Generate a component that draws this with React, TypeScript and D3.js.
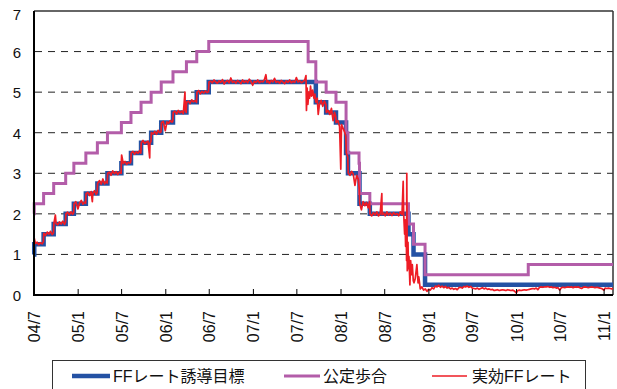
import React from "react";
import * as d3 from "d3";

// ---- data ----
const domainStart = "2004-07-01";
const domainEnd = "2011-02-07";

const tickDates = ["2004-07-01","2005-01-01","2005-07-01","2006-01-01","2006-07-01","2007-01-01","2007-07-01","2008-01-01","2008-07-01","2009-01-01","2009-07-01","2010-01-01","2010-07-01","2011-01-01"];
const tickLabels = ["04/7","05/1","05/7","06/1","06/7","07/1","07/7","08/1","08/7","09/1","09/7","10/1","10/7","11/1"];
const yTicks = [0, 1, 2, 3, 4, 5, 6, 7];

const targetDates = ["2004-07-01","2004-07-02","2004-08-10","2004-09-21","2004-11-10","2004-12-14","2005-02-02","2005-03-22","2005-05-03","2005-06-30","2005-08-09","2005-09-20","2005-11-01","2005-12-13","2006-01-31","2006-03-28","2006-05-10","2006-06-29","2007-09-18","2007-10-31","2007-12-11","2008-01-22","2008-01-30","2008-03-18","2008-04-30","2008-10-08","2008-10-29","2008-12-16","2011-02-07"];
const targetRates = [1.0,1.25,1.5,1.75,2.0,2.25,2.5,2.75,3.0,3.25,3.5,3.75,4.0,4.25,4.5,4.75,5.0,5.25,4.75,4.5,4.25,3.5,3.0,2.25,2.0,1.5,1.0,0.25,0.25];

const discountDates = ["2004-07-01","2004-07-02","2004-08-10","2004-09-21","2004-11-10","2004-12-14","2005-02-02","2005-03-22","2005-05-03","2005-06-30","2005-08-09","2005-09-20","2005-11-01","2005-12-13","2006-01-31","2006-03-28","2006-05-10","2006-06-29","2007-08-17","2007-09-18","2007-10-31","2007-12-11","2008-01-22","2008-01-30","2008-03-16","2008-03-18","2008-04-30","2008-10-08","2008-10-29","2008-12-16","2010-02-19","2011-02-07"];
const discountRates = [2.0,2.25,2.5,2.75,3.0,3.25,3.5,3.75,4.0,4.25,4.5,4.75,5.0,5.25,5.5,5.75,6.0,6.25,5.75,5.25,5.0,4.75,4.0,3.5,3.25,2.5,2.25,1.75,1.25,0.5,0.75,0.75];

const effectiveRate: [string, number][] = [
  ["2004-07-01",1.02],["2004-07-02",1.40],["2004-07-07",1.27],["2004-07-14",1.30],["2004-07-21",1.24],["2004-07-28",1.29],["2004-08-04",1.26],["2004-08-09",1.31],
  ["2004-08-11",1.52],["2004-08-18",1.47],["2004-08-25",1.55],["2004-09-01",1.50],["2004-09-08",1.57],["2004-09-15",1.49],["2004-09-20",1.53],
  ["2004-09-22",1.77],["2004-09-28",1.97],["2004-10-01",1.76],["2004-10-08",1.73],["2004-10-15",1.80],["2004-10-22",1.75],["2004-10-29",1.82],["2004-11-05",1.74],["2004-11-09",1.79],
  ["2004-11-11",2.00],["2004-11-18",2.04],["2004-11-25",1.97],["2004-12-02",2.05],["2004-12-09",1.99],["2004-12-13",2.02],
  ["2004-12-15",2.25],["2004-12-22",2.30],["2004-12-31",2.12],["2005-01-07",2.27],["2005-01-14",2.33],["2005-01-21",2.24],["2005-01-28",2.29],["2005-02-01",2.26],
  ["2005-02-03",2.50],["2005-02-10",2.53],["2005-02-17",2.45],["2005-02-24",2.55],["2005-03-01",2.30],["2005-03-03",2.50],["2005-03-10",2.57],["2005-03-17",2.48],["2005-03-21",2.52],
  ["2005-03-23",2.75],["2005-03-31",2.82],["2005-04-07",2.73],["2005-04-14",2.86],["2005-04-21",2.74],["2005-04-28",2.80],["2005-05-02",2.76],
  ["2005-05-04",3.00],["2005-05-11",3.03],["2005-05-18",2.95],["2005-05-25",3.06],["2005-06-01",2.99],["2005-06-08",3.04],["2005-06-15",2.97],["2005-06-22",3.03],["2005-06-29",3.00],
  ["2005-06-30",3.30],["2005-07-01",3.45],["2005-07-08",3.24],["2005-07-15",3.29],["2005-07-22",3.22],["2005-07-29",3.27],["2005-08-05",3.25],["2005-08-08",3.28],
  ["2005-08-10",3.50],["2005-08-17",3.54],["2005-08-24",3.47],["2005-08-31",3.53],["2005-09-07",3.49],["2005-09-14",3.56],["2005-09-19",3.50],
  ["2005-09-21",3.75],["2005-09-28",3.81],["2005-10-05",3.73],["2005-10-12",3.77],["2005-10-19",3.79],["2005-10-26",3.38],["2005-10-27",3.74],["2005-10-31",3.78],
  ["2005-11-02",4.00],["2005-11-09",3.97],["2005-11-16",4.03],["2005-11-23",3.96],["2005-11-30",4.06],["2005-12-07",4.00],["2005-12-12",4.02],
  ["2005-12-14",4.25],["2005-12-21",4.28],["2005-12-30",4.05],["2006-01-06",4.27],["2006-01-13",4.23],["2006-01-20",4.30],["2006-01-27",4.26],["2006-01-30",4.28],
  ["2006-02-01",4.50],["2006-02-08",4.53],["2006-02-15",4.46],["2006-02-22",4.55],["2006-03-01",4.49],["2006-03-08",4.53],["2006-03-15",4.47],["2006-03-22",5.00],["2006-03-23",4.55],["2006-03-27",4.50],
  ["2006-03-29",4.75],["2006-04-05",4.78],["2006-04-12",4.72],["2006-04-19",4.81],["2006-04-26",4.76],["2006-05-03",4.79],["2006-05-09",4.75],
  ["2006-05-11",5.00],["2006-05-18",5.04],["2006-05-25",4.96],["2006-06-01",5.02],["2006-06-08",4.98],["2006-06-15",5.03],["2006-06-22",4.99],["2006-06-28",5.01],
  ["2006-06-30",5.25],["2006-07-07",5.27],["2006-07-14",5.23],["2006-07-21",5.30],["2006-07-28",5.25],["2006-08-04",5.22],["2006-08-11",5.28],["2006-08-18",5.24],["2006-08-25",5.31],
  ["2006-09-01",5.20],["2006-09-08",5.26],["2006-09-15",5.29],["2006-09-22",5.23],["2006-09-29",5.35],["2006-10-06",5.24],["2006-10-13",5.27],["2006-10-20",5.22],["2006-10-27",5.29],
  ["2006-11-03",5.25],["2006-11-10",5.21],["2006-11-17",5.30],["2006-11-24",5.24],["2006-12-01",5.28],["2006-12-08",5.23],["2006-12-15",5.32],["2006-12-22",5.26],["2006-12-29",5.17],
  ["2007-01-05",5.27],["2007-01-12",5.24],["2007-01-19",5.30],["2007-01-26",5.23],["2007-02-02",5.27],["2007-02-09",5.25],["2007-02-16",5.31],["2007-02-22",5.43],["2007-02-26",5.24],
  ["2007-03-02",5.28],["2007-03-09",5.22],["2007-03-16",5.29],["2007-03-23",5.25],["2007-03-30",5.34],["2007-04-06",5.24],["2007-04-13",5.27],["2007-04-20",5.22],["2007-04-27",5.29],
  ["2007-05-04",5.25],["2007-05-11",5.21],["2007-05-18",5.28],["2007-05-25",5.24],["2007-06-01",5.30],["2007-06-08",5.23],["2007-06-15",5.27],["2007-06-22",5.24],["2007-06-29",5.36],
  ["2007-07-06",5.25],["2007-07-13",5.28],["2007-07-20",5.23],["2007-07-27",5.26],["2007-08-03",5.30],
  ["2007-08-08",5.41],["2007-08-10",4.55],["2007-08-13",5.10],["2007-08-16",4.70],["2007-08-20",5.00],["2007-08-23",4.85],["2007-08-27",5.15],["2007-08-31",4.90],["2007-09-05",5.05],["2007-09-10",4.85],["2007-09-14",4.95],["2007-09-17",4.80],
  ["2007-09-19",4.75],["2007-09-24",4.85],["2007-09-28",4.45],["2007-10-03",4.70],["2007-10-10",4.80],["2007-10-17",4.65],["2007-10-24",4.78],["2007-10-30",4.70],
  ["2007-11-01",4.50],["2007-11-08",4.55],["2007-11-15",4.45],["2007-11-22",4.60],["2007-11-29",4.30],["2007-12-05",4.50],["2007-12-10",4.40],
  ["2007-12-12",4.25],["2007-12-19",4.30],["2007-12-26",4.15],["2007-12-31",3.10],["2008-01-03",4.20],["2008-01-10",4.10],["2008-01-17",4.00],["2008-01-21",3.90],
  ["2008-01-23",3.50],["2008-01-29",3.40],["2008-01-31",3.00],["2008-02-07",2.95],["2008-02-14",3.05],["2008-02-21",2.98],["2008-02-28",2.70],["2008-03-06",2.95],["2008-03-13",2.85],["2008-03-17",2.60],
  ["2008-03-19",2.25],["2008-03-26",2.10],["2008-04-02",2.30],["2008-04-09",2.20],["2008-04-16",2.28],["2008-04-23",2.15],["2008-04-29",2.30],
  ["2008-05-01",2.00],["2008-05-08",1.95],["2008-05-15",2.03],["2008-05-22",1.97],["2008-05-29",2.05],["2008-06-05",1.95],["2008-06-12",2.00],["2008-06-19",2.50],["2008-06-20",1.98],["2008-06-26",2.02],
  ["2008-07-03",1.95],["2008-07-10",2.05],["2008-07-17",1.97],["2008-07-24",2.02],["2008-07-31",1.96],["2008-08-07",2.03],["2008-08-14",1.98],["2008-08-21",2.01],["2008-08-28",1.95],["2008-09-04",2.05],["2008-09-11",1.98],
  ["2008-09-15",2.65],["2008-09-16",2.80],["2008-09-18",2.00],["2008-09-22",1.50],["2008-09-24",1.85],["2008-09-26",1.20],["2008-09-29",1.55],["2008-09-30",0.85],["2008-10-01",3.00],["2008-10-03",0.60],["2008-10-06",1.30],["2008-10-08",0.65],["2008-10-10",0.95],["2008-10-14",0.25],["2008-10-17",0.85],["2008-10-21",0.50],["2008-10-24",0.75],["2008-10-28",0.35],["2008-10-31",0.30],["2008-11-05",0.40],["2008-11-12",0.75],["2008-11-17",0.30],["2008-11-20",0.45],["2008-11-26",0.15],["2008-12-03",0.20],["2008-12-10",0.12],
  ["2008-12-17",0.15],["2008-12-24",0.09],["2008-12-31",0.14],["2009-01-07",0.12],["2009-01-14",0.18],["2009-01-21",0.15],["2009-01-28",0.22],["2009-02-04",0.20],["2009-02-11",0.24],["2009-02-18",0.19],["2009-02-25",0.22],["2009-03-04",0.18],["2009-03-11",0.21],["2009-03-18",0.17],["2009-03-25",0.19],
  ["2009-04-01",0.15],["2009-04-08",0.17],["2009-04-15",0.14],["2009-04-22",0.16],["2009-04-29",0.13],["2009-05-06",0.18],["2009-05-13",0.19],["2009-05-20",0.17],["2009-05-27",0.21],["2009-06-03",0.20],["2009-06-10",0.22],["2009-06-17",0.19],["2009-06-24",0.21],
  ["2009-07-01",0.17],["2009-07-08",0.16],["2009-07-15",0.15],["2009-07-22",0.17],["2009-07-29",0.14],["2009-08-05",0.16],["2009-08-12",0.18],["2009-08-19",0.15],["2009-08-26",0.17],["2009-09-02",0.14],["2009-09-09",0.15],["2009-09-16",0.13],["2009-09-23",0.14],["2009-09-30",0.11],
  ["2009-10-07",0.12],["2009-10-14",0.13],["2009-10-21",0.11],["2009-10-28",0.12],["2009-11-04",0.13],["2009-11-11",0.12],["2009-11-18",0.11],["2009-11-25",0.13],["2009-12-02",0.12],["2009-12-09",0.11],["2009-12-16",0.12],["2009-12-23",0.10],["2009-12-31",0.05],
  ["2010-01-06",0.11],["2010-01-13",0.12],["2010-01-20",0.11],["2010-01-27",0.12],["2010-02-03",0.13],["2010-02-10",0.12],["2010-02-17",0.13],["2010-02-24",0.14],["2010-03-03",0.15],["2010-03-10",0.16],["2010-03-17",0.15],["2010-03-24",0.17],["2010-03-31",0.13],
  ["2010-04-07",0.19],["2010-04-14",0.20],["2010-04-21",0.19],["2010-04-28",0.20],["2010-05-05",0.20],["2010-05-12",0.21],["2010-05-19",0.19],["2010-05-26",0.20],["2010-06-02",0.18],["2010-06-09",0.19],["2010-06-16",0.17],["2010-06-23",0.18],["2010-06-30",0.12],
  ["2010-07-07",0.18],["2010-07-14",0.19],["2010-07-21",0.18],["2010-07-28",0.19],["2010-08-04",0.20],["2010-08-11",0.19],["2010-08-18",0.20],["2010-08-25",0.18],["2010-09-01",0.20],["2010-09-08",0.19],["2010-09-15",0.20],["2010-09-22",0.18],["2010-09-29",0.16],
  ["2010-10-06",0.19],["2010-10-13",0.20],["2010-10-20",0.19],["2010-10-27",0.18],["2010-11-03",0.19],["2010-11-10",0.20],["2010-11-17",0.19],["2010-11-24",0.18],["2010-12-01",0.19],["2010-12-08",0.18],["2010-12-15",0.17],["2010-12-22",0.16],["2010-12-31",0.12],
  ["2011-01-05",0.17],["2011-01-12",0.16],["2011-01-19",0.17],["2011-01-26",0.16],["2011-02-02",0.15],["2011-02-07",0.16]
];

const seriesNames = ["FFレート誘導目標", "公定歩合", "実効FFレート"];
const seriesColors = ["#2452a4", "#b35da9", "#ee1c25"];

const FONT = "'Liberation Sans', Arial, 'Noto Sans CJK JP', sans-serif";

export default function App() {
  const parse = d3.timeParse("%Y-%m-%d");
  const left = 34, right = 613, top = 11, bottom = 295;
  const x = d3.scaleTime().domain([parse(domainStart)!, parse(domainEnd)!]).range([left, right]);
  const y = d3.scaleLinear().domain([0, 7]).range([bottom, top]);

  type P = [Date, number];
  const target: P[] = targetDates.map((d, i) => [parse(d)!, targetRates[i]]);
  const discount: P[] = discountDates.map((d, i) => [parse(d)!, discountRates[i]]);
  const eff: P[] = effectiveRate.map(([d, v]) => [parse(d)!, v]);

  const step = d3.line<P>().x(d => x(d[0])).y(d => y(d[1])).curve(d3.curveStepAfter);
  const lin = d3.line<P>().x(d => x(d[0])).y(d => y(d[1]));

  const legendItems = [
    { lineX: 72, lineW: 38, textX: 113, sw: 4.5 },
    { lineX: 284, lineW: 36, textX: 323, sw: 3 },
    { lineX: 432, lineW: 35, textX: 472, sw: 1.5 },
  ];

  return (
    <svg width={617} height={389} style={{ position: "absolute", left: 0, top: 0, background: "#fff" }} fontFamily={FONT}>
      <rect x={0} y={0} width={617} height={389} fill="#fff" />
      {/* gridlines */}
      {yTicks.filter(v => v > 0 && v < 7).map(v => (
        <line key={"g" + v} x1={left + 1} x2={right} y1={y(v)} y2={y(v)} stroke="#222" strokeWidth={1} strokeDasharray="7,6" />
      ))}
      {/* frame top/right */}
      <line x1={left} x2={right} y1={top} y2={top} stroke="#333" strokeWidth={1.5} />
      <line x1={right} x2={right} y1={top} y2={bottom} stroke="#333" strokeWidth={1.5} />
      {/* series */}
      <path d={step(target)!} fill="none" stroke={seriesColors[0]} strokeWidth={4.5} />
      <path d={step(discount)!} fill="none" stroke={seriesColors[1]} strokeWidth={3} />
      <path d={lin(eff)!} fill="none" stroke={seriesColors[2]} strokeWidth={1.7} strokeLinejoin="round" />
      {/* axes */}
      <line x1={left} x2={left} y1={top} y2={bottom + 1} stroke="#000" strokeWidth={2} />
      <line x1={left - 1} x2={right} y1={bottom} y2={bottom} stroke="#000" strokeWidth={2} />
      {tickDates.map((d, i) => {
        const tx = x(parse(d)!);
        return (
          <g key={"t" + i}>
            {i > 0 && <line x1={tx} x2={tx} y1={bottom - 6} y2={bottom} stroke="#000" strokeWidth={1} />}
            <text transform={`translate(${tx + 6},311) rotate(-90)`} textAnchor="end" fontSize={16} fill="#111">{tickLabels[i]}</text>
          </g>
        );
      })}
      {yTicks.map(v => (
        <text key={"y" + v} x={21} y={Math.max(y(v) + 2, 16)} textAnchor="end" dominantBaseline="middle" fontSize={15} fill="#111">{v}</text>
      ))}
      {/* legend */}
      <rect x={52.5} y={360.5} width={533} height={40} fill="#fff" stroke="#333" strokeWidth={1} />
      {legendItems.map((it, i) => (
        <g key={"l" + i}>
          <line x1={it.lineX} x2={it.lineX + it.lineW} y1={376} y2={376} stroke={seriesColors[i]} strokeWidth={it.sw} />
          <text x={it.textX} y={382} fontSize={16} fill="#111">{seriesNames[i]}</text>
        </g>
      ))}
    </svg>
  );
}
